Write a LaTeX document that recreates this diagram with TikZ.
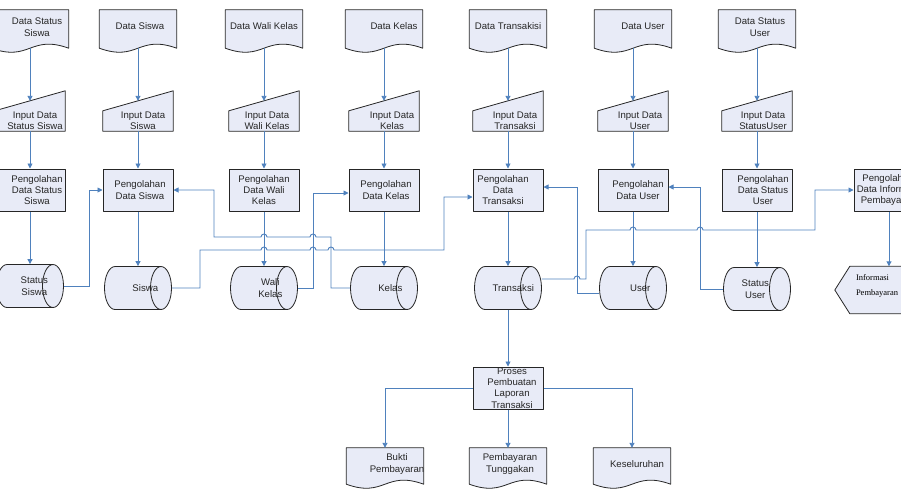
\documentclass[tikz,border=0pt]{standalone}
\usepackage{fontspec}
\setmainfont{Liberation Sans}
\newfontfamily\dispfont{Liberation Serif}
\usetikzlibrary{shapes.geometric,arrows.meta,calc}
\definecolor{shpfill}{RGB}{232,235,247}
\definecolor{flowblue}{RGB}{79,129,189}
\pgfdeclarelayer{bg}
\pgfsetlayers{bg,main}
\tikzset{
  lab/.style={font=\fontsize{9.6}{11.4}\selectfont, align=center, inner sep=0pt, text=black!85},
  shp/.style={draw=black!85, fill=shpfill, line width=0.8pt, line join=round},
  doc/.style={minimum width=77pt, minimum height=38pt, inner sep=0pt},
  inbox/.style={minimum width=70pt, minimum height=20pt, inner sep=0pt},
  procbox/.style={shp, line width=1pt, minimum width=70pt, minimum height=42pt, inner sep=0pt},
  store/.style={shp, cylinder, anchor=shape center, shape aspect=0.5, minimum width=43pt, minimum height=67pt, inner xsep=0pt, inner ysep=21pt},
  flow/.style={draw=flowblue, line width=0.9pt, -{Triangle[length=5pt,width=5pt]}},
}

\begin{document}
\begin{tikzpicture}[x=1pt, y=-1pt]
\useasboundingbox (0,0) rectangle (901,496);
\clip (0,0) rectangle (901,496);

% documents
\node[doc, label={[lab,xshift=7pt,yshift=2pt]center:Data Status\\Siswa}] (d1) at (30,29) {};
\node[doc, label={[lab,xshift=2pt,yshift=3pt]center:Data Siswa}] (d2) at (138,29) {};
\node[doc, label={[lab,yshift=3pt]center:Data Wali Kelas}] (d3) at (264,29) {};
\node[doc, label={[lab,xshift=10pt,yshift=3pt]center:Data Kelas}] (d4) at (384,29) {};
\node[doc, label={[lab,yshift=3pt]center:Data Transakisi}] (d5) at (508,29) {};
\node[doc, label={[lab,xshift=10pt,yshift=3pt]center:Data User}] (d6) at (633,29) {};
\node[doc, label={[lab,xshift=3pt,yshift=2pt]center:Data Status\\User}] (d7) at (757,29) {};

% manual input
\node[inbox, label={[lab,xshift=5pt]center:Input Data\\Status Siswa}] (in1) at (30,121) {};
\node[inbox, label={[lab,xshift=5pt]center:Input Data\\Siswa}] (in2) at (138,121) {};
\node[inbox, label={[lab,xshift=3pt]center:Input Data\\Wali Kelas}] (in3) at (264,121) {};
\node[inbox, label={[lab,xshift=8pt]center:Input Data\\Kelas}] (in4) at (384,121) {};
\node[inbox, label={[lab,xshift=7pt]center:Input Data\\Transaksi}] (in5) at (508,121) {};
\node[inbox, label={[lab,xshift=7pt]center:Input Data\\User}] (in6) at (633,121) {};
\node[inbox, label={[lab,xshift=6pt]center:Input Data\\StatusUser}] (in7) at (757,121) {};

% processing
\node[procbox, label={[lab,xshift=7pt]center:Pengolahan\\Data Status\\Siswa}] (p1) at (30,190) {};
\node[procbox, label={[lab,xshift=2pt]center:Pengolahan\\Data Siswa}] (p2) at (138,190) {};
\node[procbox, label={[lab]center:Pengolahan\\Data Wali\\Kelas}] (p3) at (264,190) {};
\node[procbox, label={[lab,xshift=2pt]center:Pengolahan\\Data Kelas}] (p4) at (384,190) {};
\node[procbox, label={[lab,xshift=-5pt]center:Pengolahan\\Data\\Transaksi}] (p5) at (508,190) {};
\node[procbox, label={[lab,xshift=5pt]center:Pengolahan\\Data User}] (p6) at (633,190) {};
\node[procbox, label={[lab,xshift=6pt]center:Pengolahan\\Data Status\\User}] (p7) at (757,190) {};
\node[procbox, label={[lab,xshift=-1pt]center:Pengolahan\\Data Informasi\\Pembayaran}] (p8) at (889,190) {};

% stores
\node[store, label={[lab,xshift=15pt]center:Status\\Siswa}] (s1) at (30,286) {};
\node[store, label={[lab,xshift=18pt]center:Siswa}] (s2) at (138,288) {};
\node[store, label={[lab,xshift=17pt]center:Wali\\Kelas}] (s3) at (264,288) {};
\node[store, label={[lab,xshift=17pt]center:Kelas}] (s4) at (384,288) {};
\node[store, label={[lab,xshift=16pt]center:Transaksi}] (s5) at (508,288) {};
\node[store, label={[lab,xshift=18pt]center:User}] (s6) at (633,288) {};
\node[store, label={[lab,xshift=9pt]center:Status\\User}] (s7) at (757,289) {};

% display
\node[minimum width=78pt, minimum height=47pt, inner sep=0pt,
  label={[font=\dispfont\fontsize{8.5}{15}\selectfont, align=left, inner sep=0pt, anchor=west, xshift=6pt, yshift=4.5pt]west:Informasi\\Pembayaran}] (ip) at (889,290) {};

% report
\node[procbox, label={[lab,xshift=4pt]center:Proses\\Pembuatan\\Laporan\\Transaksi}] (pr) at (508,388) {};
\node[doc, minimum height=36pt, label={[lab,xshift=12pt,yshift=2pt]center:Bukti\\Pembayaran}] (b1) at (385,466) {};
\node[doc, minimum height=36pt, label={[lab,xshift=2pt,yshift=2pt]center:Pembayaran\\Tunggakan}] (b2) at (508,466) {};
\node[doc, minimum height=36pt, label={[lab,xshift=5pt,yshift=2pt]center:Keseluruhan}] (b3) at (632,466) {};

\begin{pgfonlayer}{bg}
  \foreach \n in {d1,d2,d3,d4,d5,d6,d7,b1,b2,b3}
    \path[shp] (\n.south west) -- (\n.north west) -- (\n.north east) -- (\n.south east)
      .. controls ($(\n.south)+(0,-14)$) and ($(\n.south)+(0,14)$) .. (\n.south west) -- cycle;
  \foreach \i in {1,...,7}
    \path[shp] (in\i.south west) -- (in\i.north west) -- ($(in\i.north east)+(0,-20)$) -- (in\i.south east) -- cycle;
  \path[shp] ([xshift=-15pt]ip.west) -- (ip.north west) -- (ip.north east)
    .. controls +(12,0) and +(12,0) .. (ip.south east) -- (ip.south west) -- cycle;
\end{pgfonlayer}

\foreach \i in {1,...,7} {
  \draw[flow, shorten >=10pt] (d\i.south) -- (in\i.north);
  \draw[flow] (in\i.south) -- (p\i.north);
  \draw[flow] (p\i.south) -- (p\i.south |- s\i.north);
}
\draw[flow] (p8.south) -- (ip.north);

\draw[flow] (s1.east) -- ++(26,0) |- (p2.west);
\draw[flow] (s4.west) -| (331,237) -- (316,237) arc[start angle=0,end angle=180,radius=3pt]
  -- (267,237) arc[start angle=0,end angle=180,radius=3pt] -- (214,237) |- (p2.east);
\draw[flow] (s2.east) -| (200,250) -- (261,250) arc[start angle=180,end angle=0,radius=3pt]
  -- (310,250) arc[start angle=180,end angle=0,radius=3pt]
  -- (328,250) arc[start angle=180,end angle=0,radius=3pt] -- (444,250) |- ([yshift=-7pt]p5.west);
\draw[flow] (s3.east) -| (313,193) -- ([yshift=-3pt]p4.west);
\draw[flow] ([yshift=-5pt]s6.west) -| (577,187) -- ([yshift=3pt]p5.east);
\draw[flow] ([yshift=9pt]s5.east) -- (574,279) arc[start angle=180,end angle=0,radius=3pt]
  -- (586,279) |- (630,230) arc[start angle=180,end angle=0,radius=3pt]
  -- (697,230) arc[start angle=180,end angle=0,radius=3pt] -- (815,230) |- (p8.west);
\draw[flow] (s7.west) -| (700,187) -- ([yshift=3pt]p6.east);

\draw[flow] (p5.south |- s5.south) -- (pr.north);
\draw[flow] (pr.west) -| (b1.north);
\draw[flow] (pr.south) -- (b2.north);
\draw[flow] (pr.east) -| (b3.north);
\end{tikzpicture}
\end{document}
